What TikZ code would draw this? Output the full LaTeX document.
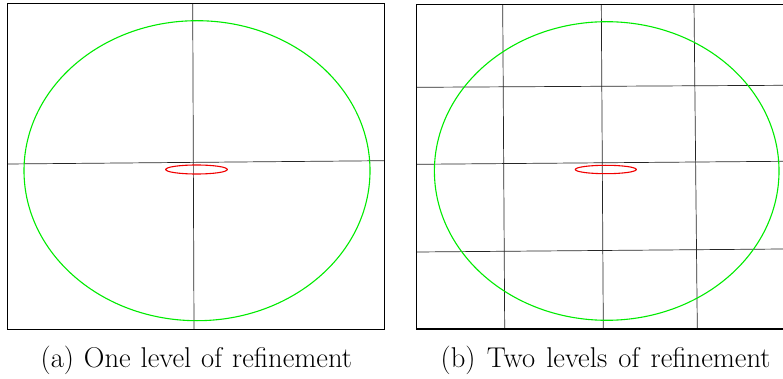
\documentclass[tikz,border=0pt]{standalone}
\usepackage{tikz}
\definecolor{brightgreen}{RGB}{0,235,0}
\definecolor{brightred}{RGB}{240,0,0}
\tikzset{
  frame/.style={draw=black, line width=1.1pt},
  gridline/.style={draw=black!85, line width=0.7pt},
  outerring/.style={draw=brightgreen, line width=1.1pt},
  innerring/.style={draw=brightred, line width=1.1pt},
  captiontext/.style={anchor=base west, inner sep=0pt, font=\fontsize{28.6}{32}\selectfont}
}
\begin{document}
\begin{tikzpicture}[x=1pt,y=-1pt]
\useasboundingbox (0,0) rectangle (783,379);
% ---------- panel (a) ----------
\draw[gridline] (192.7,3.3) -- (194,329.3);
\draw[gridline] (7.3,164) -- (384.7,160.7);
\draw[outerring] (197,170.7) ellipse [x radius=173, y radius=150];
\draw[innerring] (196.5,169.5) ellipse [x radius=30.8, y radius=4.5];
\draw[frame] (7.3,3.3) rectangle (384.7,329.3);
% ---------- panel (b) ----------
\draw[gridline] (502.7,4.3) -- (504.7,329);
\draw[gridline] (601.3,4.3) -- (603.3,329);
\draw[gridline] (694,4.3) -- (697.3,329);
\draw[gridline] (416.7,87.3) -- (783,85.3);
\draw[gridline] (416.7,164.3) -- (783,161.3);
\draw[gridline] (416.7,252) -- (783,249);
\draw[outerring] (606.7,171) ellipse [x radius=172.3, y radius=149.3];
\draw[innerring] (605.8,169.5) ellipse [x radius=30.5, y radius=4.2];
\draw[frame] (783,4.3) -- (416.7,4.3) -- (416.7,329) -- (783,329);
% ---------- captions ----------
\node[captiontext] (capa) at (40.5,367) {\spaceskip=9.9pt (a) One level of refinement};
\node[captiontext] (capb) at (440.5,367) {\spaceskip=11.2pt (b) Two levels of refinement};
\end{tikzpicture}
\end{document}
